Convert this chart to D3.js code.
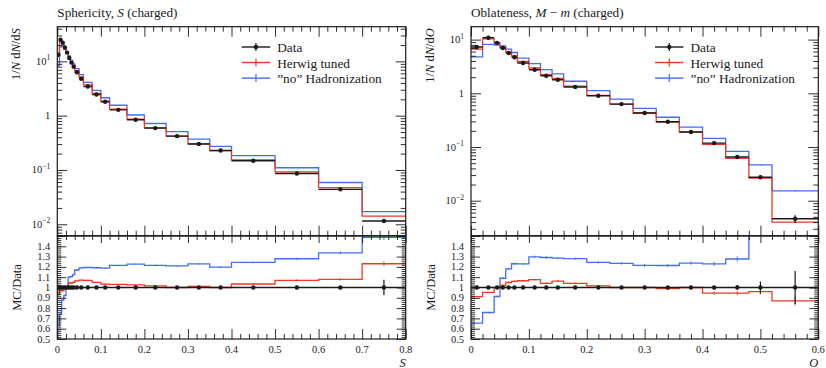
<!DOCTYPE html>
<html><head><meta charset="utf-8">
<script src="https://cdn.jsdelivr.net/npm/d3@7"></script>
<style>
body{margin:0;background:#fff}
svg{display:block}
text{font-family:"Liberation Serif","Times New Roman","DejaVu Serif",serif;fill:#1a1a1a}
</style>
</head><body>
<svg id="chart" width="826" height="368"></svg>
<script>
// ---------- Sphericity (charged) ----------
const sphEdges     = [0,0.005,0.01,0.015,0.02,0.025,0.03,0.035,0.04,0.05,0.06,0.08,0.10,0.12,0.16,0.20,0.25,0.30,0.35,0.40,0.50,0.60,0.70,0.80];
const sphData      = [13.3,25,22,18,14.5,11.5,9.5,8.0,6.3,4.8,3.45,2.45,1.8,1.28,0.84,0.59,0.42,0.30,0.228,0.148,0.086,0.044,0.0115];
const sphDataErr   = [0.3,0.3,0.3,0.25,0.2,0.15,0.12,0.1,0.08,0.06,0.04,0.03,0.02,0.015,0.01,0.007,0.005,0.004,0.003,0.002,0.0015,0.0008,0.00086];
const sphHerwig    = [12.4,24.3,21.3,17.8,14.5,12.0,9.9,8.4,6.7,5.14,3.69,2.57,1.86,1.32,0.861,0.599,0.42,0.303,0.228,0.153,0.092,0.0475,0.01415];
const sphHerwigErr = [0.12,0.15,0.13,0.11,0.09,0.08,0.07,0.06,0.04,0.03,0.02,0.015,0.01,0.007,0.005,0.004,0.003,0.002,0.0017,0.0012,0.0008,0.0005,0.00025];
const sphNoHad     = [8.4,18.5,19.3,16.6,14.5,12.65,10.5,9.0,7.37,5.71,4.12,2.92,2.14,1.555,1.03,0.717,0.508,0.369,0.273,0.184,0.110,0.0588,0.0171];
const sphNoHadErr  = [0.1,0.14,0.13,0.11,0.09,0.08,0.07,0.06,0.04,0.03,0.02,0.016,0.011,0.008,0.006,0.004,0.003,0.0025,0.002,0.0014,0.0009,0.0006,0.0003];
const sphTickLabels = ["0","0.1","0.2","0.3","0.4","0.5","0.6","0.7","0.8"];

// ---------- Oblateness, M - m (charged) ----------
const oblEdges     = [0,0.02,0.04,0.05,0.06,0.07,0.08,0.10,0.12,0.14,0.16,0.20,0.24,0.28,0.32,0.36,0.40,0.44,0.48,0.52,0.60];
const oblData      = [7.3,10.8,8.7,7.0,5.65,4.68,3.67,2.75,2.13,1.79,1.31,0.90,0.63,0.43,0.295,0.19,0.118,0.065,0.0274,0.0046];
const oblDataErr   = [0.12,0.15,0.12,0.1,0.08,0.06,0.05,0.035,0.03,0.025,0.018,0.012,0.009,0.006,0.004,0.003,0.002,0.0015,0.0016,0.00074];
const oblHerwig    = [6.66,10.28,8.7,7.14,5.93,4.96,3.91,2.96,2.215,1.90,1.362,0.9135,0.63,0.43,0.292,0.19,0.1115,0.0614,0.0263,0.0040];
const oblHerwigErr = [0.05,0.07,0.07,0.06,0.05,0.045,0.03,0.025,0.02,0.018,0.012,0.009,0.007,0.005,0.004,0.003,0.002,0.0013,0.0007,0.0002];
const oblNoHad     = [4.77,8.18,7.94,7.63,6.67,5.76,4.51,3.57,2.75,2.30,1.677,1.12,0.778,0.522,0.358,0.235,0.145,0.083,0.0466,0.0152];
const oblNoHadErr  = [0.04,0.06,0.07,0.06,0.06,0.05,0.035,0.03,0.024,0.02,0.014,0.01,0.008,0.006,0.0045,0.003,0.0025,0.0016,0.001,0.0004];
const oblTickLabels = ["0","0.1","0.2","0.3","0.4","0.5","0.6"];

const ratioTickLabels = ["0.5","0.6","0.7","0.8","0.9","1","1.1","1.2","1.3","1.4"];
const legendLabels = ["Data","Herwig tuned","\u201dno\u201d Hadronization"];

const RED = "#ee3a20", BLUE = "#4070f0", INK = "#1a1a1a";
const mainTop = 26.7, mainBot = 235.7, ratTop = 236, ratBot = 339;

const svg = d3.select("#chart");

function tickAxis(g, axisFn, scale, values, size) {
  g.call(axisFn(scale).tickValues(values).tickSize(size).tickFormat(""));
  g.select(".domain").remove();
  g.selectAll(".tick line").attr("stroke", INK).attr("stroke-width", 0.9);
}

function stepPath(edges, vals, x, y) {
  const pts = [];
  vals.forEach((v, i) => { pts.push([x(edges[i]), y(v)]); pts.push([x(edges[i + 1]), y(v)]); });
  return d3.line()(pts);
}

// histogram line with small error ticks at the bin centres
function drawMC(layer, edges, centers, vals, errs, x, y, col) {
  layer.append("path").attr("d", stepPath(edges, vals, x, y)).attr("fill", "none").attr("stroke", col).attr("stroke-width", 1.3);
  vals.forEach((v, i) => {
    layer.append("line").attr("x1", x(centers[i])).attr("x2", x(centers[i]))
      .attr("y1", y(v - errs[i])).attr("y2", y(v + errs[i])).attr("stroke", col).attr("stroke-width", 1);
  });
}

function drawPanel(cfg) {
  const x = d3.scaleLinear().domain([0, cfg.xmax]).range([cfg.x0, cfg.x1]);
  const y = d3.scaleLog().domain(cfg.ydom).range([mainBot, mainTop]);
  const yr = d3.scaleLinear().domain([0.5, 1.5]).range([ratBot, ratTop]);
  const centers = cfg.edges.slice(0, -1).map((e, i) => (e + cfg.edges[i + 1]) / 2);

  const g = svg.append("g");
  const defs = svg.append("defs");
  defs.append("clipPath").attr("id", cfg.id + "-main")
    .append("rect").attr("x", cfg.x0).attr("y", mainTop).attr("width", cfg.x1 - cfg.x0).attr("height", mainBot - mainTop);
  defs.append("clipPath").attr("id", cfg.id + "-ratio")
    .append("rect").attr("x", cfg.x0).attr("y", ratTop).attr("width", cfg.x1 - cfg.x0).attr("height", ratBot - ratTop);

  // ----- main plot -----
  const m = g.append("g").attr("clip-path", `url(#${cfg.id}-main)`);
  drawMC(m, cfg.edges, centers, cfg.noHad, cfg.noHadErr, x, y, BLUE);
  drawMC(m, cfg.edges, centers, cfg.herwig, cfg.herwigErr, x, y, RED);
  cfg.data.forEach((v, i) => {
    m.append("line").attr("x1", x(cfg.edges[i])).attr("x2", x(cfg.edges[i + 1])).attr("y1", y(v)).attr("y2", y(v))
      .attr("stroke", INK).attr("stroke-width", 1.4);
    m.append("line").attr("x1", x(centers[i])).attr("x2", x(centers[i])).attr("y1", y(v - cfg.err[i])).attr("y2", y(v + cfg.err[i]))
      .attr("stroke", INK).attr("stroke-width", 1.2);
    m.append("circle").attr("cx", x(centers[i])).attr("cy", y(v)).attr("r", 2.2).attr("fill", INK);
  });

  // ----- ratio plot -----
  const r = g.append("g").attr("clip-path", `url(#${cfg.id}-ratio)`);
  const rat = (arr) => arr.map((v, i) => v / cfg.data[i]);
  drawMC(r, cfg.edges, centers, rat(cfg.noHad), rat(cfg.noHadErr), x, yr, BLUE);
  drawMC(r, cfg.edges, centers, rat(cfg.herwig), rat(cfg.herwigErr), x, yr, RED);
  r.append("line").attr("x1", x(0)).attr("x2", x(cfg.xmax)).attr("y1", yr(1)).attr("y2", yr(1)).attr("stroke", INK).attr("stroke-width", 1.5);
  cfg.data.forEach((v, i) => {
    const e = cfg.err[i] / v;
    r.append("line").attr("x1", x(centers[i])).attr("x2", x(centers[i])).attr("y1", yr(1 - e)).attr("y2", yr(1 + e))
      .attr("stroke", INK).attr("stroke-width", 1.2);
    r.append("circle").attr("cx", x(centers[i])).attr("cy", yr(1)).attr("r", 2.2).attr("fill", INK);
  });

  // ----- frames -----
  [[mainTop, mainBot], [ratTop, ratBot]].forEach(([t, b]) => {
    g.append("rect").attr("x", cfg.x0).attr("y", t).attr("width", cfg.x1 - cfg.x0).attr("height", b - t)
      .attr("fill", "none").attr("stroke", INK).attr("stroke-width", 1.2);
  });

  // ----- x ticks (inward on both frames) -----
  const xMajor = d3.range(0, cfg.xmax + 1e-9, 0.1);
  const xMinor = d3.range(0, cfg.xmax + 1e-9, 0.02).filter(v => Math.abs(v * 10 - Math.round(v * 10)) > 1e-6);
  [[mainTop, d3.axisBottom, 10, 5], [mainBot, d3.axisTop, 10, 5], [ratTop, d3.axisBottom, 7, 4], [ratBot, d3.axisTop, 10, 5]]
    .forEach(([yy, fn, big, small]) => {
      tickAxis(g.append("g").attr("transform", `translate(0,${yy})`), fn, x, xMajor, big);
      tickAxis(g.append("g").attr("transform", `translate(0,${yy})`), fn, x, xMinor, small);
    });

  // ----- log y ticks -----
  const yMajor = [], yMinor = [];
  for (let d = -3; d <= 1; d++) {
    const base = Math.pow(10, d);
    if (base >= cfg.ydom[0] && base <= cfg.ydom[1]) yMajor.push(base);
    for (let k = 2; k <= 9; k++) { const v = k * base; if (v >= cfg.ydom[0] && v <= cfg.ydom[1]) yMinor.push(v); }
  }
  [[cfg.x0, d3.axisRight], [cfg.x1, d3.axisLeft]].forEach(([xx, fn]) => {
    tickAxis(g.append("g").attr("transform", `translate(${xx},0)`), fn, y, yMajor, 10);
    tickAxis(g.append("g").attr("transform", `translate(${xx},0)`), fn, y, yMinor, 5);
  });

  // ----- ratio y ticks -----
  const rMajor = d3.range(0.5, 1.5001, 0.1);
  const rMinor = d3.range(0.5, 1.5001, 0.02);
  [[cfg.x0, d3.axisRight], [cfg.x1, d3.axisLeft]].forEach(([xx, fn]) => {
    tickAxis(g.append("g").attr("transform", `translate(${xx},0)`), fn, yr, rMajor, 9);
    tickAxis(g.append("g").attr("transform", `translate(${xx},0)`), fn, yr, rMinor, 4);
  });

  // ----- tick labels -----
  yMajor.forEach(v => {
    const e = Math.round(Math.log10(v));
    const t = g.append("text").attr("x", cfg.x0 - 7).attr("y", y(v) + 3.5).attr("text-anchor", "end").attr("font-size", 10.5);
    if (e === 0) t.text("1");
    else {
      t.append("tspan").text("10");
      t.append("tspan").attr("dy", -4.5).attr("font-size", 7.5).text(e < 0 ? "\u2212" + (-e) : String(e));
    }
  });
  ratioTickLabels.forEach(s => {
    g.append("text").attr("x", cfg.x0 - 7).attr("y", yr(+s) + 3.5).attr("text-anchor", "end").attr("font-size", 10.5).text(s);
  });
  cfg.xLabels.forEach(s => {
    g.append("text").attr("x", x(+s)).attr("y", 353).attr("text-anchor", "middle").attr("font-size", 10.5).text(s);
  });

  // ----- axis titles -----
  g.append("text").attr("x", cfg.x1).attr("y", 366.5).attr("text-anchor", "end").attr("font-size", 12.5)
    .attr("font-style", "italic").text(cfg.varName);
  const yl = g.append("text").attr("transform", `translate(${cfg.x0 - 37},${mainTop + 1.5}) rotate(-90)`)
    .attr("text-anchor", "end").attr("font-size", 12.5);
  yl.append("tspan").text("1/");
  yl.append("tspan").attr("font-style", "italic").text("N");
  yl.append("tspan").text(" d");
  yl.append("tspan").attr("font-style", "italic").text("N");
  yl.append("tspan").text("/d");
  yl.append("tspan").attr("font-style", "italic").text(cfg.varName);
  g.append("text").attr("transform", `translate(${cfg.x0 - 36},${(ratTop + ratBot) / 2}) rotate(-90)`)
    .attr("text-anchor", "middle").attr("font-size", 12.5).text("MC/Data");

  // ----- title -----
  const tt = g.append("text").attr("x", cfg.x0).attr("y", 17).attr("font-size", 13.2);
  cfg.title.forEach(([s, it]) => tt.append("tspan").attr("font-style", it ? "italic" : "normal").text(s));

  // ----- legend -----
  const lx0 = cfg.legX, lx1 = cfg.legX + 28.5, tx = cfg.legX + 35.5;
  [52.3, 67.8, 83.4].forEach((by, i) => {
    const col = [INK, RED, BLUE][i];
    const ly = by - 5.3;
    g.append("line").attr("x1", lx0).attr("x2", lx1).attr("y1", ly).attr("y2", ly).attr("stroke", col).attr("stroke-width", 1.4);
    g.append("line").attr("x1", (lx0 + lx1) / 2).attr("x2", (lx0 + lx1) / 2).attr("y1", ly - 4).attr("y2", ly + 4).attr("stroke", col).attr("stroke-width", 1.2);
    if (i === 0) g.append("circle").attr("cx", (lx0 + lx1) / 2).attr("cy", ly).attr("r", 2.2).attr("fill", INK);
    g.append("text").attr("x", tx).attr("y", by).attr("font-size", 13.3).text(legendLabels[i]);
  });
}

drawPanel({
  id: "sph", x0: 57.3, x1: 405.7, xmax: 0.8, ydom: [0.00616, 43.5],
  edges: sphEdges, data: sphData, err: sphDataErr,
  herwig: sphHerwig, herwigErr: sphHerwigErr, noHad: sphNoHad, noHadErr: sphNoHadErr,
  xLabels: sphTickLabels, varName: "S", legX: 241.7,
  title: [["Sphericity, ", false], ["S", true], [" (charged)", false]]
});
drawPanel({
  id: "obl", x0: 471, x1: 818.3, xmax: 0.6, ydom: [0.00223, 17.4],
  edges: oblEdges, data: oblData, err: oblDataErr,
  herwig: oblHerwig, herwigErr: oblHerwigErr, noHad: oblNoHad, noHadErr: oblNoHadErr,
  xLabels: oblTickLabels, varName: "O", legX: 655,
  title: [["Oblateness, ", false], ["M", true], [" \u2212 ", false], ["m", true], [" (charged)", false]]
});
</script>
</body></html>
